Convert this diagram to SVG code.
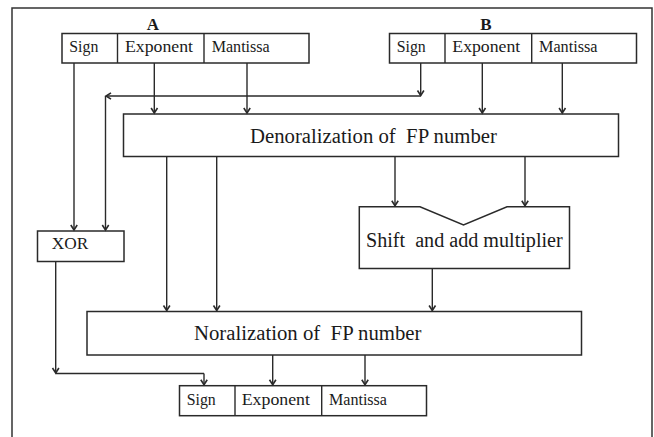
<svg xmlns="http://www.w3.org/2000/svg" width="654" height="437" viewBox="0 0 654 437">
<defs>
<marker id="ah" markerUnits="userSpaceOnUse" markerWidth="10" markerHeight="10" viewBox="-7 -5 10 10" refX="0" refY="0" orient="auto">
<path d="M-5,-3.2 L0,0 L-5,3.2" fill="none" stroke="#2a2a2a" stroke-width="1.6"/>
</marker>
</defs>
<style>
.box{fill:#fff;stroke:#2a2a2a;stroke-width:1.5}
.ln{fill:none;stroke:#2a2a2a;stroke-width:1.4}
.arr{fill:none;stroke:#2a2a2a;stroke-width:1.4;marker-end:url(#ah)}
text{font-family:"Liberation Serif","DejaVu Serif","Times New Roman",serif;fill:#1a1a1a}
.f{font-size:16px}
.big{font-size:20.5px}
.lbl{font-size:17px;font-weight:bold}
</style>
<rect x="12" y="8" width="640" height="440" fill="#fff" stroke="#333" stroke-width="1.5"/>

<g id="A">
<text class="lbl" x="153" y="30" text-anchor="middle" font-family="Liberation Serif, serif">A</text>
<rect class="box" x="62" y="33.5" width="247" height="29.5"/>
<line class="ln" x1="117.5" y1="33.5" x2="117.5" y2="63"/>
<line class="ln" x1="204" y1="33.5" x2="204" y2="63"/>
<text class="f" x="69.3" y="52" textLength="29" lengthAdjust="spacingAndGlyphs" font-family="Liberation Serif, serif">Sign</text>
<text class="f" x="125" y="52" textLength="68" lengthAdjust="spacingAndGlyphs" font-family="Liberation Serif, serif">Exponent</text>
<text class="f" x="211.7" y="52" textLength="58" lengthAdjust="spacingAndGlyphs" font-family="Liberation Serif, serif">Mantissa</text>
</g>

<g id="B">
<text class="lbl" x="486" y="30" text-anchor="middle" font-family="Liberation Serif, serif">B</text>
<rect class="box" x="389.5" y="33.5" width="247" height="29.5"/>
<line class="ln" x1="445" y1="33.5" x2="445" y2="63"/>
<line class="ln" x1="531.7" y1="33.5" x2="531.7" y2="63"/>
<text class="f" x="396.7" y="52" textLength="29" lengthAdjust="spacingAndGlyphs" font-family="Liberation Serif, serif">Sign</text>
<text class="f" x="452.3" y="52" textLength="68" lengthAdjust="spacingAndGlyphs" font-family="Liberation Serif, serif">Exponent</text>
<text class="f" x="539" y="52" textLength="58.5" lengthAdjust="spacingAndGlyphs" font-family="Liberation Serif, serif">Mantissa</text>
</g>

<g id="denorm">
<rect class="box" x="123.5" y="114" width="495" height="42.5"/>
<text class="big" x="250" y="142.5" textLength="247" lengthAdjust="spacingAndGlyphs" xml:space="preserve" font-family="Liberation Serif, serif">Denoralization of  FP number</text>
</g>

<g id="xor">
<rect class="box" x="37.5" y="231" width="86.5" height="30.5"/>
<text class="f" x="51.7" y="249.3" textLength="36.5" lengthAdjust="spacingAndGlyphs" font-family="Liberation Serif, serif">XOR</text>
</g>

<g id="mult">
<path class="box" d="M359.3,206.7 L420,206.7 L463.5,225 L507,206.7 L569.5,206.7 L569.5,268.5 L359.3,268.5 Z"/>
<text class="big" x="366" y="247.3" textLength="196.7" lengthAdjust="spacingAndGlyphs" xml:space="preserve" font-family="Liberation Serif, serif">Shift  and add multiplier</text>
</g>

<g id="norm">
<rect class="box" x="87" y="311.5" width="494.5" height="43.5"/>
<text class="big" x="194" y="340" textLength="227.5" lengthAdjust="spacingAndGlyphs" xml:space="preserve" font-family="Liberation Serif, serif">Noralization of  FP number</text>
</g>

<g id="result">
<rect class="box" x="179.5" y="385.7" width="247" height="30"/>
<line class="ln" x1="235" y1="385.7" x2="235" y2="415.7"/>
<line class="ln" x1="321.7" y1="385.7" x2="321.7" y2="415.7"/>
<text class="f" x="186.7" y="404.5" textLength="29" lengthAdjust="spacingAndGlyphs" font-family="Liberation Serif, serif">Sign</text>
<text class="f" x="241.7" y="404.5" textLength="68.3" lengthAdjust="spacingAndGlyphs" font-family="Liberation Serif, serif">Exponent</text>
<text class="f" x="329" y="404.5" textLength="58" lengthAdjust="spacingAndGlyphs" font-family="Liberation Serif, serif">Mantissa</text>
</g>

<g id="connectors">
<path class="arr" d="M74,63 V230"/>
<path class="arr" d="M420.7,63 V95.5"/>
<path class="arr" d="M420.7,96 H106"/>
<path class="arr" d="M105.5,96 V230"/>
<path class="arr" d="M154.3,63 V113"/>
<path class="arr" d="M247,63 V113"/>
<path class="arr" d="M482.3,63 V113"/>
<path class="arr" d="M562.3,63 V113"/>
<path class="arr" d="M166.7,156.5 V310.5"/>
<path class="arr" d="M216.7,156.5 V310.5"/>
<path class="arr" d="M395,156.5 V205.7"/>
<path class="arr" d="M525,156.5 V205.7"/>
<path class="arr" d="M432.3,268.5 V310.5"/>
<path class="arr" d="M55.7,261.5 V373"/>
<path class="ln" d="M55.7,373.5 H204"/>
<path class="arr" d="M204,373.5 V384.7"/>
<path class="arr" d="M272.7,355 V384.7"/>
<path class="arr" d="M365,355 V384.7"/>
</g>
</svg>
